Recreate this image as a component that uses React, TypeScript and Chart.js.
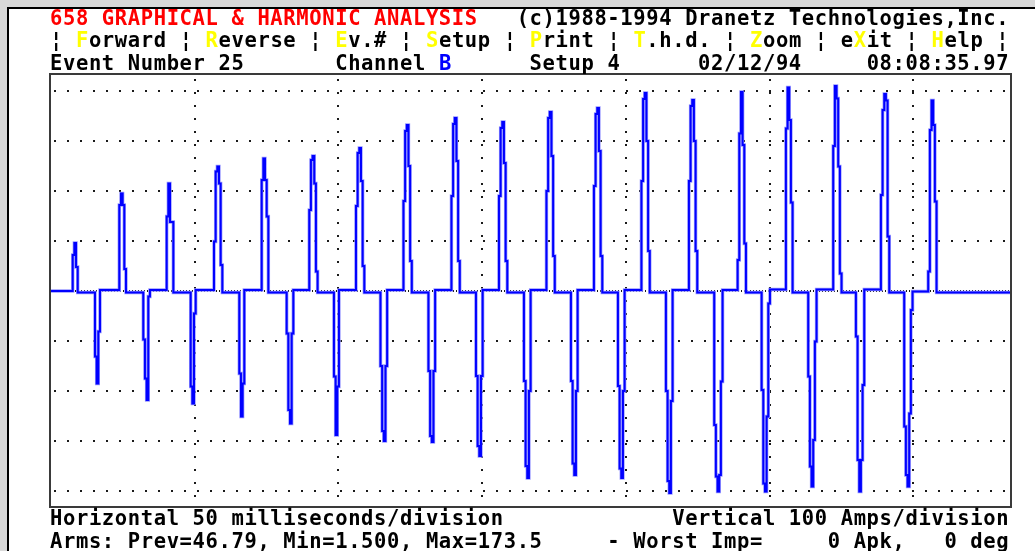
import React, { useEffect, useRef } from "react";
import { Chart, registerables } from "chart.js";

Chart.register(...registerables);

// ---------- data ----------
// time axis in milliseconds, amplitude in amps
const timeRangeMs = [0, 333.6];
const ampRangeA = [-430, 432];
const xGridMs = [50, 100, 150, 200, 250, 300];
const yGridA = [-400, -300, -200, -100, 0, 100, 200, 300, 400];
const sampleStepMs = 0.58;
const initialLevelA = 0;

// positive current pulses: start time and held sample levels (last = level after pulse)
const positiveStartMs = [
  7.55, 23.76, 40.24, 56.7, 73.29, 89.84, 106.09, 122.61, 139.3, 155.83,
  172.35, 188.87, 205.39, 221.91, 238.85, 255.65, 272.1, 288.7, 305.15,
];
const positiveLevelsA = [
  [72, 96, 48, -3],
  [172, 195, 172, 44, -3],
  [149, 215, 138, 138, -3],
  [99, 239, 249, 215, 52, -3],
  [222, 265, 222, 149, -3],
  [162, 262, 270, 215, 39, -3],
  [170, 276, 286, 220, 50, -3],
  [180, 320, 332, 250, 60, -3],
  [190, 334, 346, 260, 60, -3],
  [190, 326, 338, 256, 60, -3],
  [200, 346, 358, 270, 70, -3],
  [210, 354, 366, 280, 70, -3],
  [220, 384, 396, 300, 80, -3],
  [220, 370, 382, 300, 80, -3],
  [62, 315, 398, 292, 95, -3],
  [325, 407, 342, 177, -3],
  [290, 410, 385, 249, 35, -3],
  [192, 362, 394, 381, 109, -3],
  [39, 322, 381, 332, 179, -3],
];

// negative current pulses
const negativeStartMs = [
  15.3, 32.1, 48.59, 65.5, 81.98, 98.43, 114.61, 131.3, 147.83, 164.52,
  180.87, 197.22, 213.91, 230.71, 247.2, 263.41, 280.0, 296.8,
];
const negativeLevelsA = [
  [-131, -185, -81, 2],
  [-97, -175, -218, -11, 2],
  [-191, -225, -45, 2],
  [-165, -251, -185, 2],
  [-85, -238, -265, -85, 2],
  [-171, -288, -191, 2],
  [-150, -280, -300, -150, 2],
  [-160, -290, -302, -160, 2],
  [-170, -310, -330, -170, 2],
  [-180, -350, -374, -200, 2],
  [-180, -345, -368, -200, 2],
  [-190, -355, -374, -200, 2],
  [-200, -380, -404, -220, 2],
  [-268, -371, -401, -368, -181, 2],
  [-198, -385, -401, -251, -25, 3],
  [-171, -351, -391, -298, -101, 3],
  [-91, -338, -401, -338, -188, 3],
  [-271, -368, -391, -245, -38, -1],
];

// screen text
const RED = "#ff0000";
const YEL = "#ffff00";
const BLK = "#000000";
const BLU = "#0000ff";

const headerRow0: [string, string][] = [
  ["658 GRAPHICAL & HARMONIC ANALYSIS", RED],
  ["   (c)1988-1994 Dranetz Technologies,Inc.", BLK],
];
const headerRow1: [string, string][] = [
  ["¦ ", BLK], ["F", YEL], ["orward ¦ ", BLK],
  ["R", YEL], ["everse ¦ ", BLK],
  ["E", YEL], ["v.# ¦ ", BLK],
  ["S", YEL], ["etup ¦ ", BLK],
  ["P", YEL], ["rint ¦ ", BLK],
  ["T", YEL], [".h.d. ¦ ", BLK],
  ["Z", YEL], ["oom ¦ e", BLK],
  ["X", YEL], ["it ¦ ", BLK],
  ["H", YEL], ["elp ¦", BLK],
];
const headerRow2: [string, string][] = [
  ["Event Number 25       Channel ", BLK],
  ["B", BLU],
  ["      Setup 4      02/12/94     08:08:35.97", BLK],
];
const footerRow0: [string, string][] = [
  ["Horizontal 50 milliseconds/division             Vertical 100 Amps/division", BLK],
];
const footerRow1: [string, string][] = [
  ["Arms: Prev=46.79, Min=1.500, Max=173.5     - Worst Imp=     0 Apk,   0 deg", BLK],
];

// ---------- build trace ----------
function buildTrace() {
  const pulses: { start: number; levels: number[] }[] = [];
  positiveStartMs.forEach((s, i) => pulses.push({ start: s, levels: positiveLevelsA[i] }));
  negativeStartMs.forEach((s, i) => pulses.push({ start: s, levels: negativeLevelsA[i] }));
  pulses.sort((a, b) => a.start - b.start);
  const pts: { x: number; y: number }[] = [{ x: timeRangeMs[0], y: initialLevelA }];
  let last = initialLevelA;
  for (const p of pulses) {
    p.levels.forEach((v, i) => {
      pts.push({ x: p.start + i * sampleStepMs, y: v });
      last = v;
    });
  }
  pts.push({ x: timeRangeMs[1], y: last });
  return pts;
}

const FONT = '"DejaVu Sans Mono", monospace';
const FS = 20.5;

function TextRow({ segs, baseline }: { segs: [string, string][]; baseline: number }) {
  return (
    <div
      style={{
        position: "absolute",
        left: 50,
        top: baseline - FS * 0.846,
        height: FS,
        lineHeight: FS + "px",
        fontFamily: FONT,
        fontSize: FS,
        fontWeight: "bold",
        letterSpacing: "0.62px",
        whiteSpace: "pre",
      }}
    >
      {segs.map((s, i) => (
        <span key={i} style={{ color: s[1] }}>
          {s[0]}
        </span>
      ))}
    </div>
  );
}

export default function App() {
  const ref = useRef<HTMLCanvasElement | null>(null);

  useEffect(() => {
    if (!ref.current) return;
    const boxPlugin = {
      id: "box",
      afterDraw(chart: any) {
        const { ctx, chartArea: a } = chart;
        ctx.save();
        ctx.strokeStyle = "#3a3a3a";
        ctx.lineWidth = 2;
        ctx.strokeRect(a.left - 1, a.top - 1, a.right - a.left + 2, a.bottom - a.top + 2);
        ctx.restore();
      },
    };
    const trace = buildTrace();
    const chart = new Chart(ref.current, {
      type: "line",
      data: {
        datasets: [
          {
            data: trace,
            stepped: true,
            borderColor: "#0000ff",
            borderWidth: 2,
            pointRadius: 0,
            fill: false,
            order: 1,
          },
          {
            data: trace,
            stepped: true,
            borderColor: "#9a9aff",
            borderWidth: 3.4,
            pointRadius: 0,
            fill: false,
            order: 2,
          },
        ],
      },
      options: {
        animation: false,
        responsive: false,
        maintainAspectRatio: false,
        layout: { padding: { left: 51, right: 25, top: 75, bottom: 45 } },
        plugins: { legend: { display: false }, tooltip: { enabled: false }, title: { display: false } },
        scales: {
          x: {
            type: "linear",
            min: timeRangeMs[0],
            max: timeRangeMs[1],
            z: 1,
            afterBuildTicks: (axis: any) => {
              axis.ticks = xGridMs.map((v) => ({ value: v }));
            },
            ticks: { display: false },
            grid: { color: "#1a1a1a", lineWidth: 2, drawTicks: false },
            border: { display: false, dash: [2, 11], dashOffset: 9 },
          },
          y: {
            type: "linear",
            min: ampRangeA[0],
            max: ampRangeA[1],
            z: 1,
            afterBuildTicks: (axis: any) => {
              axis.ticks = yGridA.map((v) => ({ value: v }));
            },
            ticks: { display: false },
            grid: { color: "#1a1a1a", lineWidth: 2, drawTicks: false },
            border: {
              display: false,
              dash: (c: any) => (c.tick && c.tick.value === 0 ? [1, 2] : [2, 11]),
              dashOffset: (c: any) => (c.tick && c.tick.value === 0 ? 0 : 10),
            },
          },
        },
      } as any,
      plugins: [boxPlugin],
    });
    return () => chart.destroy();
  }, []);

  return (
    <div
      style={{
        position: "fixed",
        left: 0,
        top: 0,
        width: 1035,
        height: 551,
        background: "#ffffff",
        overflow: "hidden",
      }}
    >
      <div style={{ position: "absolute", left: 0, top: 0, width: 1035, height: 7, background: "#d9d9d9" }} />
      <div style={{ position: "absolute", left: 0, top: 0, width: 7, height: 551, background: "#d9d9d9" }} />
      <div style={{ position: "absolute", left: 7, top: 7, width: 1028, height: 2, background: "#000" }} />
      <div style={{ position: "absolute", left: 7, top: 7, width: 2, height: 544, background: "#000" }} />
      <canvas ref={ref} width={1035} height={551} style={{ position: "absolute", left: 0, top: 0, width: 1035, height: 551 }} />
      <TextRow segs={headerRow0} baseline={25} />
      <TextRow segs={headerRow1} baseline={47.5} />
      <TextRow segs={headerRow2} baseline={70.5} />
      <TextRow segs={footerRow0} baseline={525.5} />
      <TextRow segs={footerRow1} baseline={548} />
    </div>
  );
}
